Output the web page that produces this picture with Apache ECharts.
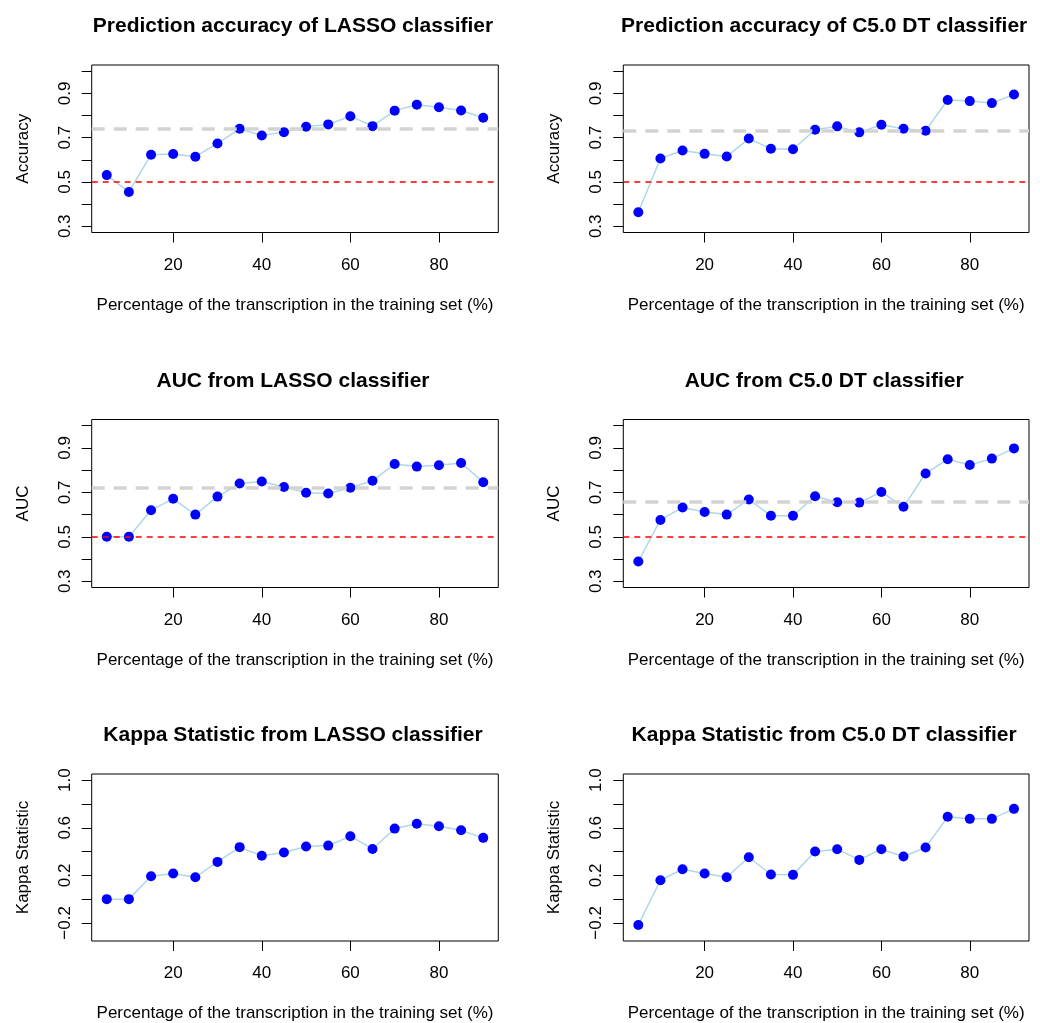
<!DOCTYPE html>
<html>
<head>
<meta charset="utf-8">
<script src="https://cdn.jsdelivr.net/npm/echarts@6/dist/echarts.min.js"></script>
<style>
    html, body { margin: 0; padding: 0; background: #fff; }
    #main { width: 1040px; height: 1023px; }
</style>
</head>
<body>
<div id="main"></div>
<script>
// percentage of transcription in the training set
var pct = [5, 10, 15, 20, 25, 30, 35, 40, 45, 50, 55, 60, 65, 70, 75, 80, 85, 90];

var lassoAcc = [0.531, 0.455, 0.623, 0.626, 0.614, 0.674, 0.740, 0.710, 0.725, 0.749, 0.760, 0.797, 0.752, 0.822, 0.849, 0.837, 0.823, 0.790];
var c50Acc = [0.363, 0.606, 0.642, 0.627, 0.615, 0.696, 0.650, 0.648, 0.736, 0.751, 0.724, 0.758, 0.740, 0.731, 0.870, 0.865, 0.856, 0.895];
var lassoAuc = [0.500, 0.500, 0.620, 0.671, 0.600, 0.681, 0.740, 0.749, 0.724, 0.698, 0.695, 0.721, 0.752, 0.828, 0.816, 0.822, 0.832, 0.746];
var c50Auc = [0.389, 0.576, 0.632, 0.612, 0.600, 0.668, 0.595, 0.595, 0.683, 0.656, 0.654, 0.702, 0.635, 0.785, 0.849, 0.823, 0.852, 0.898];
var lassoKappa = [0.000, 0.000, 0.193, 0.215, 0.184, 0.313, 0.437, 0.364, 0.392, 0.442, 0.450, 0.529, 0.422, 0.593, 0.633, 0.613, 0.579, 0.515];
var c50Kappa = [-0.217, 0.159, 0.251, 0.215, 0.184, 0.352, 0.207, 0.204, 0.400, 0.420, 0.330, 0.420, 0.358, 0.434, 0.692, 0.675, 0.675, 0.759];

// reference lines: mean (grey) and chance level (red)
var meanLines = [0.745, 0.728, 0.724, 0.657, null, null];
var chanceLines = [0.5, 0.5, 0.5, 0.5, null, null];

var xTicks = [20, 40, 60, 80];
var accTicks = [0.3, 0.4, 0.5, 0.6, 0.7, 0.8, 0.9, 1.0];
var accLabels = [0.3, 0.5, 0.7, 0.9];
var kappaTicks = [-0.2, 0, 0.2, 0.4, 0.6, 0.8, 1.0];
var kappaLabels = [-0.2, 0.2, 0.6, 1.0];

var titles = [
    'Prediction accuracy of LASSO classifier',
    'Prediction accuracy of C5.0 DT classifier',
    'AUC from LASSO classifier',
    'AUC from C5.0 DT classifier',
    'Kappa Statistic from LASSO classifier',
    'Kappa Statistic from C5.0 DT classifier'
];
var yNames = ['Accuracy', 'Accuracy', 'AUC', 'AUC', 'Kappa Statistic', 'Kappa Statistic'];
var values = [lassoAcc, c50Acc, lassoAuc, c50Auc, lassoKappa, c50Kappa];

var FONT = 'Liberation Sans, Arial, Helvetica, sans-serif';
var colLeft = [91.7, 623.3];
var colWidth = [406.6, 405.7];
var rowTop = [65, 419.5, 774];
var rowHeight = [167.5, 168, 167];

function fmt(v) {
    return v.toFixed(1).replace('-', '\u2212');
}

var option = {
    backgroundColor: '#fff',
    animation: false,
    title: [],
    grid: [],
    xAxis: [],
    yAxis: [],
    series: []
};

for (var i = 0; i < 6; i++) {
    var col = i % 2;
    var row = Math.floor(i / 2);
    var isKappa = row === 2;

    option.title.push({
        text: titles[i],
        left: colLeft[col] + colWidth[col] / 2 - 7,
        top: rowTop[row] - 54,
        textAlign: 'center',
        textStyle: { fontFamily: FONT, fontSize: 21, fontWeight: 'bold', color: '#000' }
    });

    option.grid.push({
        left: colLeft[col],
        top: rowTop[row],
        width: colWidth[col],
        height: rowHeight[row],
        show: true,
        borderColor: '#000',
        borderWidth: 1
    });

    option.xAxis.push({
        type: 'value',
        gridIndex: i,
        min: 1.6,
        max: 93.4,
        name: 'Percentage of the transcription in the training set (%)',
        nameLocation: 'middle',
        nameGap: 64,
        nameTextStyle: { fontFamily: FONT, fontSize: 17, color: '#000' },
        axisLine: { show: false, onZero: false },
        splitLine: { show: false },
        axisTick: { show: true, inside: false, length: 10, customValues: xTicks, lineStyle: { color: '#000' } },
        axisLabel: { customValues: xTicks, margin: 24, fontFamily: FONT, fontSize: 17, color: '#000' }
    });

    var ymin = isKappa ? -0.352 : 0.272;
    var ymax = isKappa ? 1.052 : 1.028;
    option.yAxis.push({
        type: 'value',
        gridIndex: i,
        min: ymin,
        max: ymax,
        name: yNames[i],
        nameLocation: 'middle',
        nameGap: 60,
        nameTextStyle: { fontFamily: FONT, fontSize: 17, color: '#000' },
        axisLine: { show: false, onZero: false },
        splitLine: { show: false },
        axisTick: { show: true, inside: false, length: 10, customValues: isKappa ? kappaTicks : accTicks, lineStyle: { color: '#000' } },
        axisLabel: {
            customValues: isKappa ? kappaLabels : accLabels,
            rotate: 90,
            margin: 18,
            fontFamily: FONT,
            fontSize: 17,
            color: '#000',
            formatter: fmt
        }
    });

    var markData = [];
    if (meanLines[i] !== null) {
        markData.push({ yAxis: meanLines[i], lineStyle: { color: '#D3D3D3', width: 3.5, type: [13, 9] } });
    }
    if (chanceLines[i] !== null) {
        markData.push({ yAxis: chanceLines[i], lineStyle: { color: '#FF0000', width: 1.5, type: [6, 5] } });
    }

    option.series.push({
        type: 'line',
        xAxisIndex: i,
        yAxisIndex: i,
        data: pct.map(function (p, k) { return [p, values[i][k]]; }),
        symbol: 'circle',
        symbolSize: 10,
        itemStyle: { color: '#0000FF' },
        lineStyle: { color: '#ADD8E6', width: 1.5 },
        markLine: {
            silent: true,
            symbol: 'none',
            label: { show: false },
            data: markData
        }
    });
}

var chart = echarts.init(document.getElementById('main'));
chart.setOption(option);
window.addEventListener('resize', function () {
    chart.resize();
});
</script>
</body>
</html>
